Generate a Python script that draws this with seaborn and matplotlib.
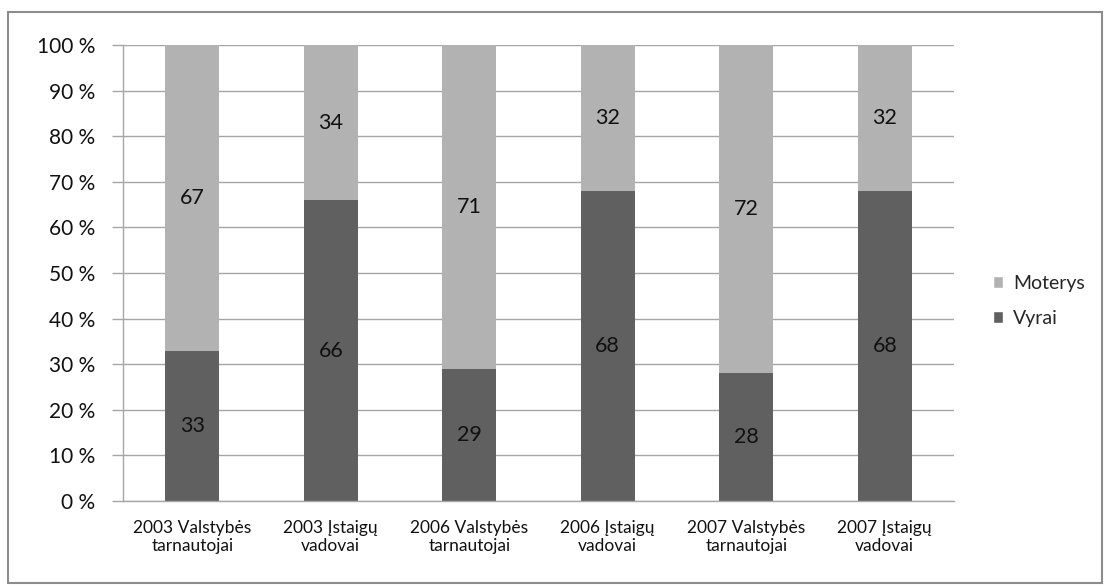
import matplotlib
matplotlib.use("Agg")
import matplotlib.pyplot as plt
import seaborn as sns
import pandas as pd
import numpy as np
from matplotlib.patches import Rectangle, Patch

categories = [
    "2003 Valstybės\ntarnautojai",
    "2003 Įstaigų\nvadovai",
    "2006 Valstybės\ntarnautojai",
    "2006 Įstaigų\nvadovai",
    "2007 Valstybės\ntarnautojai",
    "2007 Įstaigų\nvadovai",
]
vyrai = [33, 66, 29, 68, 28, 68]
moterys = [67, 34, 71, 32, 72, 32]
y_ticks = [0, 10, 20, 30, 40, 50, 60, 70, 80, 90, 100]

col_moterys = "#B2B2B2"
col_vyrai = "#606060"
grid_col = "#A6A6A6"
text_col = "#111111"

sns.set_theme(style="white")
plt.rcParams["font.family"] = ["Lato", "DejaVu Sans"]

df = pd.DataFrame({
    "kategorija": categories,
    "Vyrai": vyrai,
    "Moterys": moterys,
})
df["viso"] = df["Vyrai"] + df["Moterys"]

fig = plt.figure(figsize=(11.04, 5.85), dpi=100)
ax = fig.add_axes([123 / 1104, 1 - 501 / 585, (954 - 123) / 1104, (501 - 45) / 585])

# stacked bars: full height in the light colour, men's share on top of it
sns.barplot(data=df, x="kategorija", y="viso", color=col_moterys, width=0.39,
            saturation=1, ax=ax, zorder=3)
sns.barplot(data=df, x="kategorija", y="Vyrai", color=col_vyrai, width=0.39,
            saturation=1, ax=ax, zorder=4)
for p in ax.patches:
    p.set_edgecolor("none")

# value labels in the middle of each segment
for i, (v, m) in enumerate(zip(vyrai, moterys)):
    ax.text(i, v / 2, f"{v}", ha="center", va="center", fontsize=15.5,
            color=text_col, zorder=5)
    ax.text(i, v + m / 2, f"{m}", ha="center", va="center", fontsize=15.5,
            color=text_col, zorder=5)

ax.set_xlim(-0.5, len(categories) - 0.5)
ax.set_ylim(0, 100)
ax.set_yticks(y_ticks)
ax.set_yticklabels([f"{t} %" for t in y_ticks], fontsize=15, color=text_col)
ax.yaxis.grid(True, color=grid_col, linewidth=1.0, zorder=0)
ax.set_xlabel("")
ax.set_ylabel("")

# category boundaries carry the x ticks, labels sit under bar centres
ax.set_xticks(np.arange(-0.5, len(categories), 1.0))
ax.set_xticklabels([])
ax.set_xticks(np.arange(len(categories)), minor=True)
ax.set_xticklabels(categories, minor=True, fontsize=12.5, color=text_col,
                   linespacing=1.15)
ax.tick_params(axis="x", which="major", direction="out", length=8,
               color=grid_col, width=1.0)
ax.tick_params(axis="x", which="minor", length=0, pad=14)
ax.tick_params(axis="y", direction="out", length=8, color=grid_col, width=1.0,
               pad=12, left=True)

for s in ["top", "right"]:
    ax.spines[s].set_visible(False)
for s in ["left", "bottom"]:
    ax.spines[s].set_color(grid_col)
    ax.spines[s].set_linewidth(1.0)
    ax.spines[s].set_zorder(6)

handles = [Patch(facecolor=col_moterys, label="Moterys"),
           Patch(facecolor=col_vyrai, label="Vyrai")]
fig.legend(handles=handles, loc="center left",
           bbox_to_anchor=(975 / 1104, 1 - 301 / 585), frameon=False,
           fontsize=14, handlelength=0.55, handleheight=0.55,
           handletextpad=0.5, labelspacing=0.95)

# outer chart frame
fig.patches.append(Rectangle((8 / 1104, 2 / 585), 1094 / 1104, 571 / 585,
                             transform=fig.transFigure, fill=False,
                             edgecolor="#8C8C8C", linewidth=1.5))

fig.savefig("out.png", dpi=100, facecolor="white")
